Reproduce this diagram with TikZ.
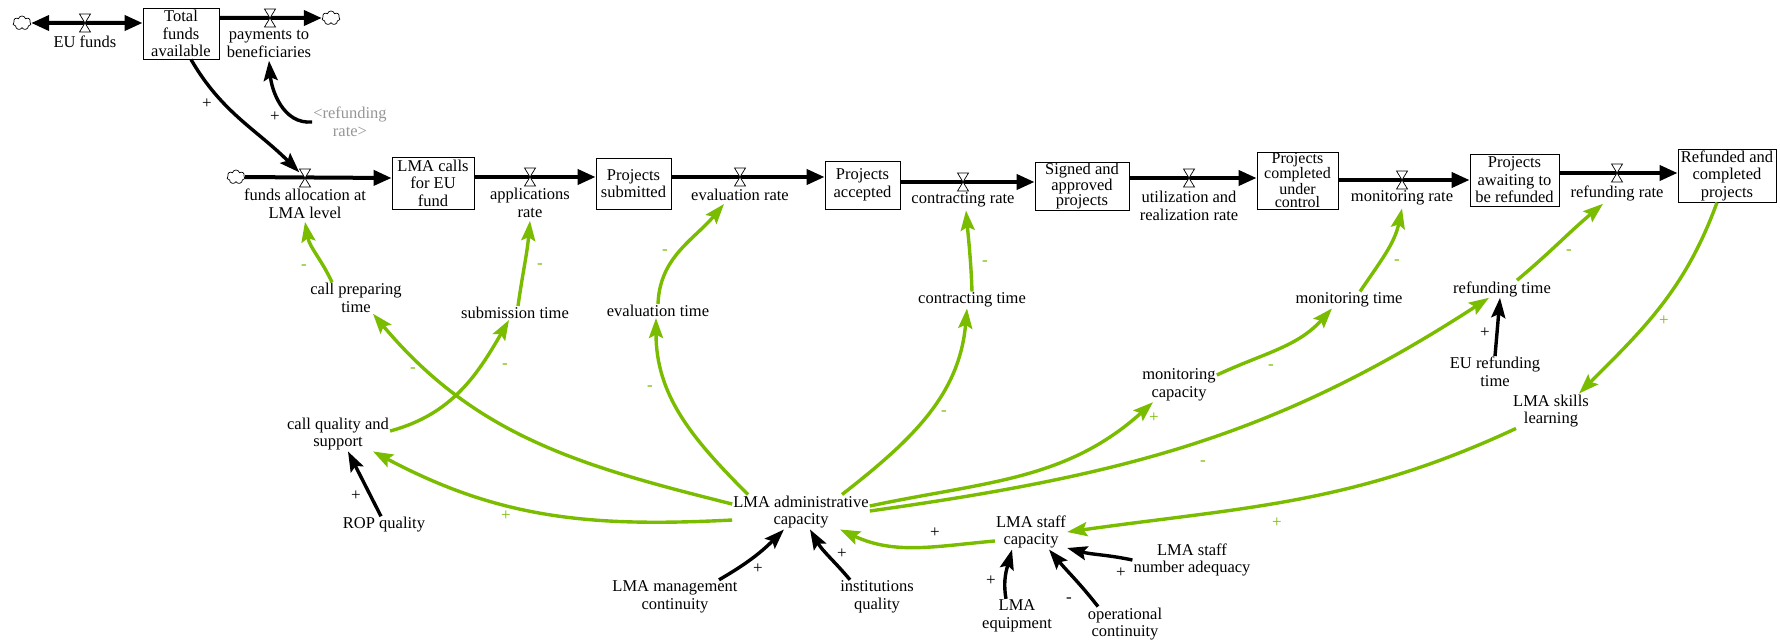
\documentclass[tikz,border=0pt]{standalone}
\usepackage{fontspec}
\setmainfont{Liberation Serif}
\usetikzlibrary{arrows.meta,shapes.symbols}
\definecolor{linkgreen}{RGB}{122,188,0}
\definecolor{shadowgray}{RGB}{150,150,150}

\begin{document}
\begin{tikzpicture}[x=1pt,y=1pt,
  every node/.style={font=\rmfamily\fontsize{16.5}{17.5}\selectfont, align=center, inner sep=1pt},
  stockbox/.style={draw, line width=0.9pt, inner sep=0pt},
  ratelabel/.style={inner sep=3pt},
  valvenode/.style={inner sep=0pt, minimum width=11pt, minimum height=18pt},
  cloudnode/.style={cloud, cloud puffs=7, cloud puff arc=150, aspect=1.25, draw,
    line width=0.7pt, minimum width=18pt, minimum height=14pt, inner sep=0pt},
  pipe/.style={line width=4pt},
  pipehead/.style={-{Triangle[length=18pt,width=15pt]}},
  infl/.style={line width=3.4pt, -{Stealth[length=20pt,width=14pt,inset=3.5pt]}},
  glink/.style={infl, draw=linkgreen},
  blink/.style={infl, draw=black},
  pol/.style={font=\rmfamily\fontsize{17}{17}\selectfont, inner sep=0pt},
  gpol/.style={pol, text=linkgreen},
  valve/.pic={\draw[line width=0.7pt, fill=white] (-5.5,9) -- (5.5,9) -- (-5.5,-9) -- (5.5,-9) -- cycle;}
]
\useasboundingbox (0,0) rectangle (1780,-644);

% ---------- stocks ----------
\node[stockbox, minimum width=76pt, minimum height=51pt] (TFA) at (181,-33.5) {Total\\funds\\available};
\node[stockbox, minimum width=82pt, minimum height=52pt] (LC) at (433,-183) {LMA calls\\for EU\\fund};
\node[stockbox, minimum width=75pt, minimum height=51pt] (PS) at (633.5,-183.5) {Projects\\submitted};
\node[stockbox, minimum width=75pt, minimum height=48pt] (PA) at (862.5,-185) {Projects\\accepted};
\node[stockbox, minimum width=94pt, minimum height=48pt, font=\rmfamily\fontsize{16.5}{15}\selectfont] (SA) at (1082,-186) {Signed and\\approved\\projects};
\node[stockbox, minimum width=81pt, minimum height=57pt, font=\rmfamily\fontsize{16}{13.5}\selectfont] (PC) at (1297.5,-180.5) {Projects\\completed\\under\\control};
\node[stockbox, minimum width=89pt, minimum height=52pt] (PW) at (1514.5,-180) {Projects\\awaiting to\\be refunded};
\node[stockbox, minimum width=98pt, minimum height=53pt] (RC) at (1727,-175.5) {Refunded and\\completed\\projects};

% ---------- sources and sinks ----------
\node[cloudnode] (cEU) at (22,-23) {};
\node[cloudnode] (cPay) at (331,-18) {};
\node[cloudnode] (cAl) at (236,-177) {};

% ---------- valves ----------
\node[valvenode] (vEU) at (85,-23) {};
\node[valvenode] (vPay) at (270,-18) {};
\node[valvenode] (vAl) at (305,-178) {};
\node[valvenode] (vApp) at (530,-177) {};
\node[valvenode] (vEv) at (740,-177) {};
\node[valvenode] (vCo) at (963,-182) {};
\node[valvenode] (vUt) at (1189,-178) {};
\node[valvenode] (vMo) at (1402,-180) {};
\node[valvenode] (vRe) at (1617,-173) {};

% ---------- pipes ----------
\draw[pipe, {Triangle[length=18pt,width=15pt]}-{Triangle[length=18pt,width=15pt]}] (cEU) -- (TFA.west |- vEU);
\draw[pipe, pipehead] (TFA.east |- vPay) -- (cPay);
\draw[pipe, pipehead] (cAl) -- (LC.west |- vAl);
\draw[pipe, pipehead] (LC.east |- vApp) -- (PS.west |- vApp);
\draw[pipe, pipehead] (PS.east |- vEv) -- (PA.west |- vEv);
\draw[pipe, pipehead] (PA.east |- vCo) -- (SA.west |- vCo);
\draw[pipe, pipehead] (SA.east |- vUt) -- (PC.west |- vUt);
\draw[pipe, pipehead] (PC.east |- vMo) -- (PW.west |- vMo);
\draw[pipe, pipehead] (PW.east |- vRe) -- (RC.west |- vRe);
\foreach \v in {vEU,vPay,vAl,vApp,vEv,vCo,vUt,vMo,vRe} \pic at (\v) {valve};

% ---------- flow labels ----------
\node[ratelabel] (lEU) at (85,-42) {EU funds};
\node[ratelabel] (lPay) at (269,-44) {payments to\\beneficiaries};
\node[ratelabel] (lAl) at (305,-204) {funds allocation at\\LMA level};
\node[ratelabel] (lApp) at (530,-203) {applications\\rate};
\node[ratelabel] (lEv) at (740,-195) {evaluation rate};
\node[ratelabel] (lCo) at (963,-200) {contracting rate};
\node[ratelabel] (lUt) at (1189,-206) {utilization and\\realization rate};
\node[ratelabel] (lMo) at (1402,-198) {monitoring rate};
\node[ratelabel] (lRe) at (1617,-193) {refunding rate};
\node[text=shadowgray] (refR) at (350,-122) {<refunding\\rate>};

% ---------- auxiliary variables ----------
\node (cpt) at (356,-298) {call preparing\\time};
\node (subt) at (515,-313) {submission time};
\node (evt) at (658,-311) {evaluation time};
\node (cot) at (972,-300) {contracting time};
\node (mot) at (1349,-300) {monitoring time};
\node (ret) at (1502,-289) {refunding time};
\node (moc) at (1179,-385) {monitoring\\capacity};
\node (eur) at (1495,-372) {EU refunding\\time};
\node (skl) at (1551,-411) {LMA skills\\learning};
\node (cqs) at (338,-434) {call quality and\\support};
\node (rop) at (384,-525) {ROP quality};
\node (adm) at (801,-512) {LMA administrative\\capacity};
\node (stf) at (1031,-532) {LMA staff\\capacity};
\node (mgc) at (675,-597) {LMA management\\continuity};
\node (inq) at (877,-597) {institutions\\quality};
\node (sna) at (1192,-560) {LMA staff\\number adequacy};
\node (eqp) at (1017,-616) {LMA\\equipment};
\node (opc) at (1125,-624) {operational\\continuity};

% ---------- black links ----------
\draw[blink] ([xshift=10pt]TFA.south) to[out=-60,in=135] (vAl);
\draw[blink] (refR.west) to[out=185,in=-85] (lPay.south);
\draw[blink] (eur.north) -- ([xshift=-2pt]ret.south);
\draw[blink] ([xshift=-3pt]rop.north) -- ([xshift=10pt]cqs.south);
\draw[blink] ([xshift=44pt]mgc.north) to[out=30,in=225] ([xshift=-17pt]adm.south);
\draw[blink] ([xshift=-27pt]inq.north) to[out=130,in=-60] ([xshift=9pt]adm.south);
\draw[blink] (sna.west) to[out=168,in=-15] ([yshift=-16pt]stf.east);
\draw[blink] ([xshift=-11pt]eqp.north) to[out=100,in=-105] ([xshift=-19pt]stf.south);
\draw[blink] ([xshift=-27pt]opc.north) to[out=128,in=-50] ([xshift=18pt]stf.south);

% ---------- green links ----------
\draw[glink] ([xshift=-24pt]cpt.north) to[out=115,in=-80] (lAl.south);
\draw[glink] ([xshift=3pt]subt.north) to[out=82,in=-95] (lApp.south);
\draw[glink] (evt.north) to[out=88,in=230] ([xshift=-16pt]lEv.south);
\draw[glink] (cot.north) to[out=92,in=-85] ([xshift=3pt]lCo.south);
\draw[glink] ([xshift=11pt]mot.north) to[out=56,in=-102] (lMo.south);
\draw[glink] ([xshift=15pt]ret.north) to[out=40,in=220] ([xshift=-14pt]lRe.south);
\draw[glink] ([xshift=-10pt]RC.south) to[out=250,in=45] ([xshift=28pt]skl.north);
\draw[glink] ([yshift=10pt]moc.east) to[out=25,in=228] ([xshift=-17pt]mot.south);
\draw[glink] ([yshift=6pt]adm.east) to[out=12,in=222] ([xshift=-26pt]moc.south);
\draw[glink] ([yshift=1pt]adm.east) to[out=8,in=213] ([xshift=-13pt]ret.south);
\draw[glink] ([xshift=-35pt]skl.south) to[out=205,in=8] (stf.east);
\draw[glink] ([yshift=-9pt]stf.west) to[out=185,in=-25] ([xshift=39pt]adm.south);
\draw[glink] ([yshift=8pt]adm.west) to[out=166,in=-50] ([xshift=17pt]cpt.south);
\draw[glink] ([yshift=-8pt]adm.west) to[out=183,in=-28] ([xshift=35pt]cqs.south);
\draw[glink] ([yshift=3pt]cqs.east) to[out=15,in=240] ([xshift=-6pt]subt.south);
\draw[glink] ([xshift=-53pt]adm.north) to[out=135,in=-90] ([xshift=-2pt]evt.south);
\draw[glink] ([xshift=41pt]adm.north) to[out=38,in=-95] ([xshift=-5pt]cot.south);

% ---------- polarities ----------
\node[pol] (p1) at (207,-104) {+};
\node[pol] (p2) at (275,-117) {+};
\node[gpol] (p3) at (304,-267) {-};
\node[gpol] (p4) at (540,-266) {-};
\node[gpol] (p5) at (665,-252) {-};
\node[gpol] (p6) at (985,-263) {-};
\node[gpol] (p7) at (1397,-262) {-};
\node[gpol] (p8) at (1569,-252) {-};
\node[gpol] (p9) at (1664,-321) {+};
\node[pol] (p10) at (1485,-333) {+};
\node[gpol] (p11) at (1271,-367) {-};
\node[gpol] (p12) at (1154,-418) {+};
\node[gpol] (p13) at (1203,-463) {-};
\node[gpol] (p14) at (1277,-523) {+};
\node[gpol] (p15) at (413,-370) {-};
\node[gpol] (p16) at (505,-366) {-};
\node[gpol] (p17) at (650,-388) {-};
\node[gpol] (p18) at (944,-413) {-};
\node[gpol] (p19) at (506,-516) {+};
\node[pol] (p20) at (356,-496) {+};
\node[pol] (p21) at (935,-533) {+};
\node[pol] (p22) at (758,-569) {+};
\node[pol] (p23) at (842,-554) {+};
\node[pol] (p24) at (1121,-573) {+};
\node[pol] (p25) at (991,-581) {+};
\node[pol] (p26) at (1069,-600) {-};
\end{tikzpicture}
\end{document}
